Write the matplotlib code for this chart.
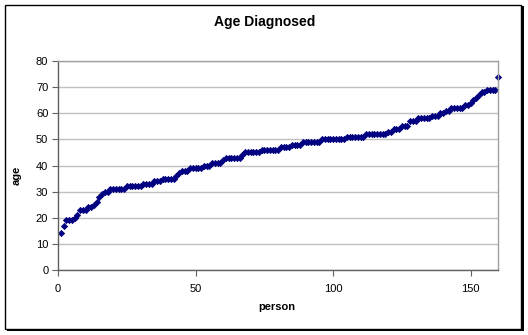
import matplotlib
matplotlib.use("Agg")
import matplotlib.pyplot as plt
from matplotlib.patches import Rectangle

plt.rcParams['font.family'] = ['Liberation Sans', 'DejaVu Sans']

# Age at diagnosis, one value per person, sorted ascending
ages = [
    14, 17, 19, 19, 19, 20, 21, 23, 23, 23, 24, 24, 25, 26, 28, 29, 30, 30,
    31, 31, 31, 31, 31, 31,
    32, 32, 32, 32, 32, 32,
    33, 33, 33, 33,
    34, 34, 34,
    35, 35, 35, 35, 35,
    36, 37,
    38, 38, 38,
    39, 39, 39, 39, 39,
    40, 40, 40,
    41, 41, 41, 41,
    42,
    43, 43, 43, 43, 43, 43,
    44,
    45, 45, 45, 45, 45, 45,
    46, 46, 46, 46, 46, 46, 46,
    47, 47, 47, 47,
    48, 48, 48, 48,
    49, 49, 49, 49, 49, 49, 49,
    50, 50, 50, 50, 50, 50, 50, 50, 50,
    51, 51, 51, 51, 51, 51, 51,
    52, 52, 52, 52, 52, 52, 52, 52,
    53, 53,
    54, 54, 54,
    55, 55, 55,
    57, 57, 57,
    58, 58, 58, 58, 58,
    59, 59, 59,
    60, 60, 61, 61,
    62, 62, 62, 62, 62,
    63, 63,
    64, 65, 66, 67,
    68, 68,
    69, 69, 69, 69,
    74,
]
persons = list(range(1, len(ages) + 1))

x_ticks = [0, 50, 100, 150]
y_ticks = [0, 10, 20, 30, 40, 50, 60, 70, 80]

W, H = 528, 335
fig = plt.figure(figsize=(W / 100, H / 100), dpi=100)
fig.patch.set_facecolor('white')

# chart-area frame with a small drop shadow
fig.patches.append(Rectangle((7 / W, 1 - 331 / H), 517 / W, 325 / H,
                             transform=fig.transFigure, facecolor='black',
                             edgecolor='none', zorder=0))
fig.patches.append(Rectangle((5 / W, 1 - 329 / H), 516 / W, 324 / H,
                             transform=fig.transFigure, facecolor='white',
                             edgecolor='black', linewidth=1.0, zorder=1))

left, right, top, bottom = 58, 498, 61, 270
ax = fig.add_axes([left / W, 1 - bottom / H, (right - left) / W, (bottom - top) / H])
ax.set_zorder(2)
ax.set_facecolor('white')

ax.plot(persons, ages, linestyle='none', marker='D', markersize=3.2,
        color='#000080', markeredgewidth=0.5, clip_on=False)

ax.set_xlim(0, 160)
ax.set_ylim(0, 80)
ax.set_xticks(x_ticks)
ax.set_yticks(y_ticks)
ax.yaxis.grid(True, color='#c0c0c0', linewidth=1.0)
ax.set_axisbelow(True)

for side in ('top', 'right'):
    ax.spines[side].set_color('#a0a0a0')
    ax.spines[side].set_linewidth(1.0)
for side in ('left', 'bottom'):
    ax.spines[side].set_color('#606060')
    ax.spines[side].set_linewidth(1.0)

ax.tick_params(direction='out', length=4, width=0.8, color='#606060',
               labelsize=8, pad=6)
ax.tick_params(axis='y', pad=3)

fig.text(265 / W, 1 - 22 / H, 'Age Diagnosed', ha='center', va='center',
         fontsize=10, fontweight='bold')
fig.text(277 / W, 1 - 307 / H, 'person', ha='center', va='center',
         fontsize=8, fontweight='bold')
fig.text(17 / W, 1 - 175 / H, 'age', ha='center', va='center',
         fontsize=8, fontweight='bold', rotation=90)

fig.savefig('out.png', dpi=100)
